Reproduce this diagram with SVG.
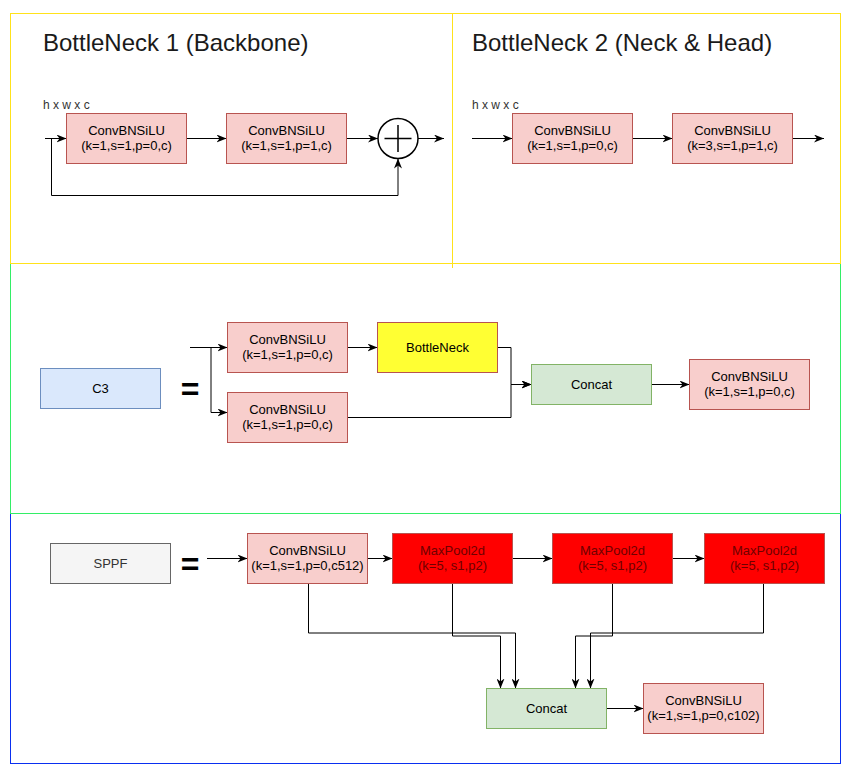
<svg xmlns="http://www.w3.org/2000/svg" width="851" height="774" viewBox="0 0 851 774">
<style>
text{font-family:"Liberation Sans",Arial,Helvetica,sans-serif;fill:#000}
.t13{font-size:13px;text-anchor:middle}
.title{font-size:24px;fill:#1a1a1a}
.small{font-size:12px;fill:#333}
.eq{font-size:32px;font-weight:bold;text-anchor:middle}
.pink{fill:#f8cecc;stroke:#b85450;stroke-width:1}
.red{fill:#ff0000;stroke:#b85450;stroke-width:1}
.yel{fill:#ffff33;stroke:#b85450;stroke-width:1}
.blue{fill:#dae8fc;stroke:#6c8ebf;stroke-width:1}
.green{fill:#d5e8d4;stroke:#82b366;stroke-width:1}
.gray{fill:#f5f5f5;stroke:#666;stroke-width:1}
.mp{fill:#6e0000}
.e{fill:none;stroke:#000;stroke-width:1}
.ea{fill:none;stroke:#000;stroke-width:1;marker-end:url(#arr)}
.frame{fill:none;stroke-width:1}
</style>
<defs>
<marker id="arr" viewBox="0 0 10 8" refX="10" refY="4" markerWidth="10" markerHeight="8" markerUnits="userSpaceOnUse" orient="auto">
<path d="M0,0 L10,4 L0,8 L3,4 Z" fill="#000"/>
</marker>
</defs>
<rect width="851" height="774" fill="#fff"/>
<g id="frames">
<rect class="frame" x="10.5" y="513.5" width="830" height="250" stroke="#0a2ff0"/>
<rect class="frame" x="10.5" y="263.5" width="830" height="250" stroke="#33ee66"/>
<rect class="frame" x="10.5" y="13.5" width="442" height="250" stroke="#ffe21a"/>
<rect class="frame" x="452.5" y="13.5" width="388" height="250" stroke="#ffe21a"/>
<path class="frame" d="M452.5,263.5 V268" stroke="#ffe21a"/>
</g>
<g id="titles">
<text class="title" x="43" y="51">BottleNeck 1 (Backbone)</text>
<text class="title" x="472" y="51">BottleNeck 2 (Neck &amp; Head)</text>
<text class="small" x="43" y="109">h x w x c</text>
<text class="small" x="472" y="109">h x w x c</text>
</g>
<g id="connectors">
<path class="ea" d="M45,138.5 H66.5"/>
<path class="ea" d="M186.5,138.5 H226.5"/>
<path class="ea" d="M346.5,138.5 H378"/>
<path class="ea" d="M418,138.5 H444"/>
<path class="ea" d="M51.5,138.5 V195.5 H398 V158.5"/>
<path class="ea" d="M472,138.5 H512.5"/>
<path class="ea" d="M632.5,138.5 H672.5"/>
<path class="ea" d="M792.5,138.5 H824"/>
<path class="ea" d="M190,347.5 H227.5"/>
<path class="ea" d="M211,347.5 V412.5 H227.5"/>
<path class="ea" d="M347.5,347.5 H377.5"/>
<path class="ea" d="M497.5,347.5 H511 V384.5 H531.5"/>
<path class="ea" d="M347.5,417.5 H511 V384.5 H531.5"/>
<path class="ea" d="M651.5,384.5 H689.5"/>
<path class="ea" d="M207,558.5 H247.5"/>
<path class="ea" d="M367.5,558.5 H392.5"/>
<path class="ea" d="M512.5,558.5 H552.5"/>
<path class="ea" d="M672.5,558.5 H704.5"/>
<path class="ea" d="M606.5,708.5 H643.5"/>
<path class="ea" d="M308.5,583.5 V633 H515.5 V688.5"/>
<path class="ea" d="M452.5,583.5 V636 H500.5 V688.5"/>
<path class="ea" d="M612.5,583.5 V636 H575.5 V688.5"/>
<path class="ea" d="M763.5,583.5 V633 H590.5 V688.5"/>
</g>
<g id="bn1-conv1"><rect class="pink" x="66.5" y="113.5" width="120" height="50"/><text class="t13" x="126.5" y="135">ConvBNSiLU</text><text class="t13" x="126.5" y="150">(k=1,s=1,p=0,c)</text></g>
<g id="bn1-conv2"><rect class="pink" x="226.5" y="113.5" width="120" height="50"/><text class="t13" x="286.5" y="135">ConvBNSiLU</text><text class="t13" x="286.5" y="150">(k=1,s=1,p=1,c)</text></g>
<g id="bn1-add"><circle cx="398" cy="138.5" r="20" fill="#fff" stroke="#000" stroke-width="1.5"/><path d="M384.5,138.5 H411.5 M398,125 V152" stroke="#000" stroke-width="1.5"/></g>
<g id="bn2-conv1"><rect class="pink" x="512.5" y="113.5" width="120" height="50"/><text class="t13" x="572.5" y="135">ConvBNSiLU</text><text class="t13" x="572.5" y="150">(k=1,s=1,p=0,c)</text></g>
<g id="bn2-conv2"><rect class="pink" x="672.5" y="113.5" width="120" height="50"/><text class="t13" x="732.5" y="135">ConvBNSiLU</text><text class="t13" x="732.5" y="150">(k=3,s=1,p=1,c)</text></g>
<g id="c3"><rect class="blue" x="40.5" y="368.5" width="120" height="40"/><text class="t13" x="100.5" y="393">C3</text></g>
<g id="c3-eq"><text class="eq" x="190" y="400">=</text></g>
<g id="c3-conv1"><rect class="pink" x="227.5" y="322.5" width="120" height="50"/><text class="t13" x="287.5" y="344">ConvBNSiLU</text><text class="t13" x="287.5" y="359">(k=1,s=1,p=0,c)</text></g>
<g id="c3-conv2"><rect class="pink" x="227.5" y="392.5" width="120" height="50"/><text class="t13" x="287.5" y="414">ConvBNSiLU</text><text class="t13" x="287.5" y="429">(k=1,s=1,p=0,c)</text></g>
<g id="c3-bottleneck"><rect class="yel" x="377.5" y="322.5" width="120" height="50"/><text class="t13" x="437.5" y="352">BottleNeck</text></g>
<g id="c3-concat"><rect class="green" x="531.5" y="364.5" width="120" height="40"/><text class="t13" x="591.5" y="389">Concat</text></g>
<g id="c3-conv3"><rect class="pink" x="689.5" y="359.5" width="120" height="50"/><text class="t13" x="749.5" y="381">ConvBNSiLU</text><text class="t13" x="749.5" y="396">(k=1,s=1,p=0,c)</text></g>
<g id="sppf"><rect class="gray" x="50.5" y="543.5" width="120" height="40"/><text class="t13" x="110.5" y="568" style="fill:#333">SPPF</text></g>
<g id="sppf-eq"><text class="eq" x="190" y="575">=</text></g>
<g id="sppf-conv1"><rect class="pink" x="247.5" y="533.5" width="120" height="50"/><text class="t13" x="307.5" y="555">ConvBNSiLU</text><text class="t13" x="307.5" y="570">(k=1,s=1,p=0,c512)</text></g>
<g id="maxpool1"><rect class="red" x="392.5" y="533.5" width="120" height="50"/><text class="t13 mp" x="452.5" y="555">MaxPool2d</text><text class="t13 mp" x="452.5" y="570">(k=5, s1,p2)</text></g>
<g id="maxpool2"><rect class="red" x="552.5" y="533.5" width="120" height="50"/><text class="t13 mp" x="612.5" y="555">MaxPool2d</text><text class="t13 mp" x="612.5" y="570">(k=5, s1,p2)</text></g>
<g id="maxpool3"><rect class="red" x="704.5" y="533.5" width="120" height="50"/><text class="t13 mp" x="764.5" y="555">MaxPool2d</text><text class="t13 mp" x="764.5" y="570">(k=5, s1,p2)</text></g>
<g id="sppf-concat"><rect class="green" x="486.5" y="688.5" width="120" height="40"/><text class="t13" x="546.5" y="713">Concat</text></g>
<g id="sppf-conv2"><rect class="pink" x="643.5" y="683.5" width="120" height="50"/><text class="t13" x="703.5" y="705">ConvBNSiLU</text><text class="t13" x="703.5" y="720">(k=1,s=1,p=0,c102)</text></g>
</svg>
